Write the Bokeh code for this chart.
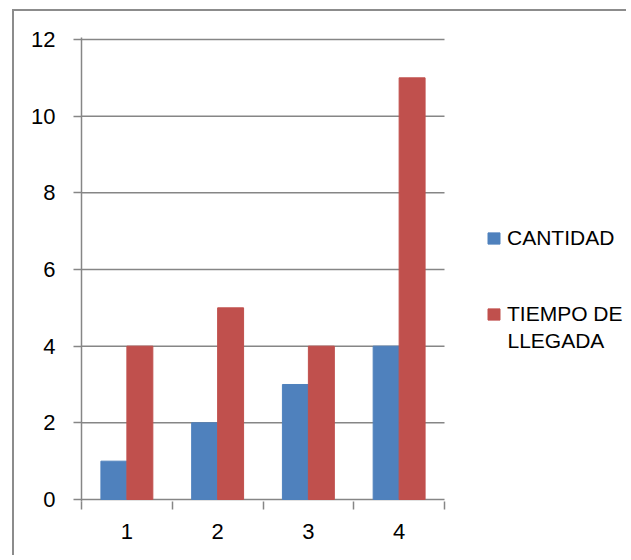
from bokeh.plotting import figure
from bokeh.models import FixedTicker, Range1d, Legend, LegendItem, ColumnDataSource, Label
from bokeh.transform import dodge
from bokeh.embed import file_html
from bokeh.resources import INLINE

categories = [1, 2, 3, 4]
cat_labels = ["1", "2", "3", "4"]
cantidad = [1, 2, 3, 4]
tiempo = [4, 5, 4, 11]
y_ticks = [0, 2, 4, 6, 8, 10, 12]
series_names = ["CANTIDAD", "TIEMPO DE", "LLEGADA"]

FONT = "Liberation Sans"
GRID = "#868686"

src = ColumnDataSource(dict(x=categories, a=cantidad, b=tiempo))

# frame: 81..628 px wide, categories occupy 81..444 px
x_end = 0.5 + len(categories) * 547 / 363
p = figure(width=614, height=546, output_backend="svg", toolbar_location=None,
           x_range=Range1d(0.5, x_end), y_range=Range1d(-0.0522, 12.0522),
           min_border_left=67, min_border_top=26, min_border_right=0, min_border_bottom=56)
p.margin = (9, 0, 0, 12)
p.styles = {"border-left": "2px solid #8c8c8c", "border-top": "2px solid #8c8c8c"}
p.outline_line_color = None

# gridlines (incl. x-axis baseline) only across the category area
p.segment(x0=0.5, x1=len(categories) + 0.5, y0=y_ticks, y1=y_ticks,
          line_color=GRID, line_width=1.5)

r1 = p.vbar(x=dodge("x", -0.143, range=p.x_range), top="a", width=0.286, source=src,
            fill_color="#4F81BD", line_color="#4F81BD")
r2 = p.vbar(x=dodge("x", 0.143, range=p.x_range), top="b", width=0.286, source=src,
            fill_color="#C0504D", line_color="#C0504D")

# axes
p.xaxis.ticker = FixedTicker(ticks=categories, minor_ticks=[c + 0.5 for c in [0] + categories])
p.xaxis.major_label_overrides = {c: l for c, l in zip(categories, cat_labels)}
p.xaxis.major_tick_out = 0
p.xaxis.major_tick_in = 0
p.xaxis.minor_tick_out = 8
p.xaxis.minor_tick_in = 0
p.xaxis.major_label_standoff = 14
p.yaxis.ticker = FixedTicker(ticks=y_ticks)
p.yaxis.major_tick_out = 8
p.yaxis.major_tick_in = 0
p.yaxis.major_label_standoff = 18
for ax in (p.xaxis[0], p.yaxis[0]):
    ax.axis_line_color = GRID
    ax.axis_line_width = 1.5
    ax.major_tick_line_color = GRID
    ax.minor_tick_line_color = GRID
    ax.major_tick_line_width = 1.5
    ax.minor_tick_line_width = 1.5
    ax.major_label_text_font = FONT
    ax.major_label_text_font_size = "22px"
    ax.major_label_text_color = "#000000"
p.yaxis.minor_tick_line_color = None
p.xaxis.axis_line_color = None

p.xgrid.grid_line_color = None
p.ygrid.grid_line_color = None

legend = Legend(items=[LegendItem(label=series_names[0], renderers=[r1]),
                       LegendItem(label=series_names[1], renderers=[r2])],
                location=(405, 175), padding=0, margin=0, spacing=52,
                glyph_width=15, glyph_height=14, label_standoff=6,
                label_text_font=FONT, label_text_font_size="21px",
                label_text_color="#000000",
                border_line_color=None, background_fill_alpha=0)
p.add_layout(legend, "center")

p.add_layout(Label(x=0.5 + 426 / 90.75, y=159 / 38.33, text=series_names[2],
                   text_font=FONT, text_font_size="21px", text_color="#000000",
                   text_baseline="middle", text_align="left"))

open("out.html", "w").write(file_html(p, INLINE))
